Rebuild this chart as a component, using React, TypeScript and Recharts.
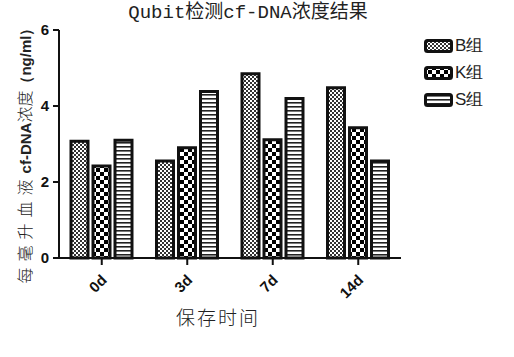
import { BarChart, Bar, XAxis, YAxis } from "recharts";

const days = ["0d", "3d", "7d", "14d"];
const groupB = [3.07, 2.55, 4.85, 4.48];
const groupK = [2.42, 2.9, 3.11, 3.43];
const groupS = [3.1, 4.38, 4.2, 2.55];
const yTicks = [0, 2, 4, 6];

const series = [
  { key: "B", name: "B组", fill: "url(#patB)" },
  { key: "K", name: "K组", fill: "url(#patK)" },
  { key: "S", name: "S组", fill: "url(#patS)" },
];

const data = days.map((d, i) => ({
  day: d,
  B: groupB[i],
  K: groupK[i],
  S: groupS[i],
}));

const boldSans = "Arial, 'Liberation Sans', sans-serif";
const serifCjk = "'Liberation Mono', 'Noto Sans CJK SC', monospace";

function DayTick(props: any) {
  const { x, y, payload } = props;
  const tx = x + 6;
  const ty = y + 14;
  return (
    <g>
      <text
        x={tx}
        y={ty}
        textAnchor="end"
        transform={`rotate(-45, ${tx}, ${ty})`}
        fontFamily={boldSans}
        fontWeight="bold"
        fontSize={15}
        fill="#111"
      >
        {payload.value}
      </text>
    </g>
  );
}

function ValueTick(props: any) {
  const { x, y, payload } = props;
  return (
    <text
      x={x - 2}
      y={y + 5}
      textAnchor="end"
      fontFamily={boldSans}
      fontWeight="bold"
      fontSize={15}
      fill="#111"
    >
      {payload.value}
    </text>
  );
}

function YTitle() {
  const cx = 31;
  const cy = 152;
  return (
    <text
      x={cx}
      y={cy}
      textAnchor="middle"
      transform={`rotate(-90, ${cx}, ${cy})`}
      fill="#222"
    >
      <tspan fontFamily="'Noto Sans CJK SC', serif" fontWeight={300} fontSize={16} letterSpacing={6}>
        每毫升血液
      </tspan>
      <tspan fontFamily={boldSans} fontWeight="bold" fontSize={15}>
        cf-DNA
      </tspan>
      <tspan fontFamily="'Noto Sans CJK SC', serif" fontWeight={300} fontSize={16}>
        浓度
      </tspan>
      <tspan fontFamily={boldSans} fontWeight="bold" fontSize={15}>
        （ng/ml）
      </tspan>
    </text>
  );
}

function LegendBox() {
  return (
    <div style={{ display: "flex", flexDirection: "column", gap: 6 }}>
      {series.map((s) => (
        <div
          key={s.key}
          style={{ display: "flex", alignItems: "center", height: 21 }}
        >
          <svg width={30} height={14}>
            <rect
              x={1.5}
              y={1.5}
              width={26}
              height={11}
              rx={2}
              fill={s.fill}
              stroke="#111"
              strokeWidth={3}
            />
          </svg>
          <span
            style={{
              fontFamily: boldSans,
              fontSize: 17,
              color: "#222",
              marginLeft: 1,
            }}
          >
            {s.name}
          </span>
        </div>
      ))}
    </div>
  );
}

export default function App() {
  return (
    <div
      style={{
        position: "absolute",
        left: 0,
        top: 0,
        width: 514,
        height: 357,
        background: "#fff",
      }}
    >
      <div
        style={{
          position: "absolute",
          top: 0,
          left: 0,
          width: 496,
          textAlign: "center",
          fontFamily: serifCjk,
          fontSize: 19,
          lineHeight: "26px",
          color: "#222",
        }}
      >
        Qubit检测cf-DNA浓度结果
      </div>
      <div
        style={{
          position: "absolute",
          top: 304,
          left: 128,
          width: 180,
          textAlign: "center",
          fontFamily: "'Noto Sans CJK SC', serif",
          fontWeight: 300,
          fontSize: 19,
          lineHeight: "26px",
          letterSpacing: 2,
          color: "#222",
        }}
      >
        保存时间
      </div>
      <BarChart
        width={514}
        height={357}
        data={data}
        margin={{ top: 30, right: 113, bottom: 0, left: 0 }}
        barSize={17}
        barGap={5}
        style={{ position: "absolute", left: 0, top: 0 }}
      >
        <defs>
          <pattern id="patB" width={4} height={4} patternUnits="userSpaceOnUse">
            <rect width={4} height={4} fill="#fff" />
            <rect width={2} height={2} fill="#333" />
            <rect x={2} y={2} width={2} height={2} fill="#333" />
          </pattern>
          <pattern id="patK" width={8} height={8} patternUnits="userSpaceOnUse">
            <rect width={8} height={8} fill="#fff" />
            <rect width={4} height={4} fill="#000" />
            <rect x={4} y={4} width={4} height={4} fill="#000" />
          </pattern>
          <pattern id="patS" width={4} height={4} patternUnits="userSpaceOnUse">
            <rect width={4} height={4} fill="#fff" />
            <rect y={2} width={4} height={1.6} fill="#222" />
          </pattern>
        </defs>
        <XAxis
          dataKey="day"
          height={99}
          tick={<DayTick />}
          tickSize={7}
          axisLine={{ stroke: "#111", strokeWidth: 2 }}
          tickLine={{ stroke: "#111", strokeWidth: 2 }}
          interval={0}
        />
        <YAxis
          width={59}
          domain={[0, 6]}
          ticks={yTicks}
          tick={<ValueTick />}
          tickSize={6}
          axisLine={{ stroke: "#111", strokeWidth: 2 }}
          tickLine={{ stroke: "#111", strokeWidth: 2 }}
          label={<YTitle />}
        />
        {series.map((s) => (
          <Bar
            key={s.key}
            dataKey={s.key}
            name={s.name}
            fill={s.fill}
            stroke="#111"
            strokeWidth={3}
            isAnimationActive={false}
          />
        ))}
      </BarChart>
      <div style={{ position: "absolute", left: 424, top: 35 }}>
        <LegendBox />
      </div>
    </div>
  );
}
